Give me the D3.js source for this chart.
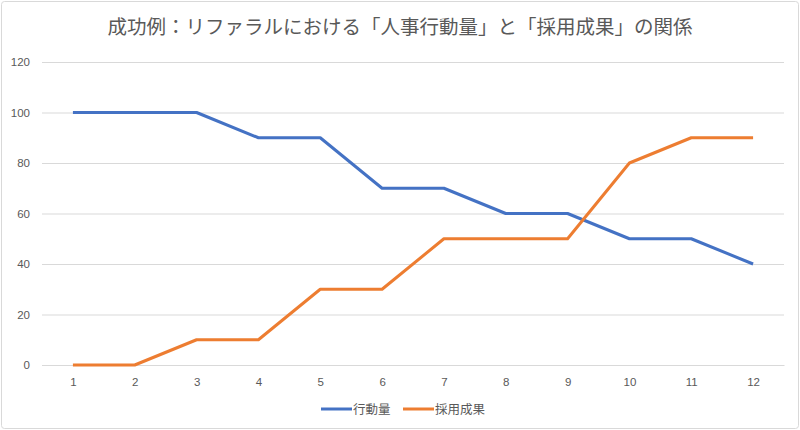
<!DOCTYPE html>
<html><head><meta charset="utf-8">
<script src="https://cdn.jsdelivr.net/npm/d3@7"></script>
<style>
body{margin:0;background:#fff;}
svg{display:block;font-family:"Noto Sans CJK JP","Noto Sans",sans-serif;}
</style></head>
<body><svg id="c" width="800" height="430"></svg>
<script>
const categories = ["1","2","3","4","5","6","7","8","9","10","11","12"];
const actionVolume = [100,100,100,90,90,70,70,60,60,50,50,40];
const hiringResults = [0,0,10,10,30,30,50,50,50,80,90,90];
const yTicks = [0,20,40,60,80,100,120];
const seriesNames = ["行動量","採用成果"];
const colors = ["#4472C4","#ED7D31"];
const title = "成功例：リファラルにおける「人事行動量」と「採用成果」の関係";

const svg = d3.select("#c");
svg.append("rect").attr("x",1.5).attr("y",1.5).attr("width",797).attr("height",427)
  .attr("fill","#fff").attr("stroke","#d9d9d9").attr("rx",3);

const pLeft=42, pRight=784, pTop=62, pBottom=365;
const x = d3.scalePoint().domain(categories).range([pLeft,pRight]).padding(0.5);
const y = d3.scaleLinear().domain([0,120]).range([pBottom,pTop]);

svg.append("text").attr("x",400).attr("y",34).attr("text-anchor","middle")
  .attr("font-size",19.5).attr("fill","#595959").text(title);

const yAxis = svg.append("g").attr("transform",`translate(${pLeft},0)`)
  .call(d3.axisLeft(y).tickValues(yTicks).tickSize(-(pRight-pLeft)).tickPadding(12));
yAxis.select(".domain").remove();
yAxis.selectAll("line").attr("stroke","#d9d9d9");
yAxis.selectAll("text").attr("fill","#595959").attr("font-size",11.5).attr("font-family","Liberation Sans, Arial, sans-serif");

const xAxis = svg.append("g").attr("transform",`translate(0,${pBottom})`)
  .call(d3.axisBottom(x).tickSize(0).tickPadding(13));
xAxis.select(".domain").attr("stroke","#d9d9d9");
xAxis.selectAll("text").attr("fill","#595959").attr("font-size",11.5).attr("font-family","Liberation Sans, Arial, sans-serif");

const line = d3.line().x((d,i)=>x(categories[i])).y(d=>y(d));
[actionVolume,hiringResults].forEach((s,k)=>{
  svg.append("path").datum(s).attr("d",line).attr("fill","none")
    .attr("stroke",colors[k]).attr("stroke-width",3).attr("stroke-linejoin","round");
});

const leg = svg.append("g");
const lx=[321,403];
seriesNames.forEach((n,k)=>{
  leg.append("line").attr("x1",lx[k]).attr("x2",lx[k]+31).attr("y1",409).attr("y2",409)
    .attr("stroke",colors[k]).attr("stroke-width",3);
  leg.append("text").attr("x",lx[k]+32).attr("y",413.5).attr("font-size",12.5)
    .attr("fill","#595959").text(n);
});
</script></body></html>
